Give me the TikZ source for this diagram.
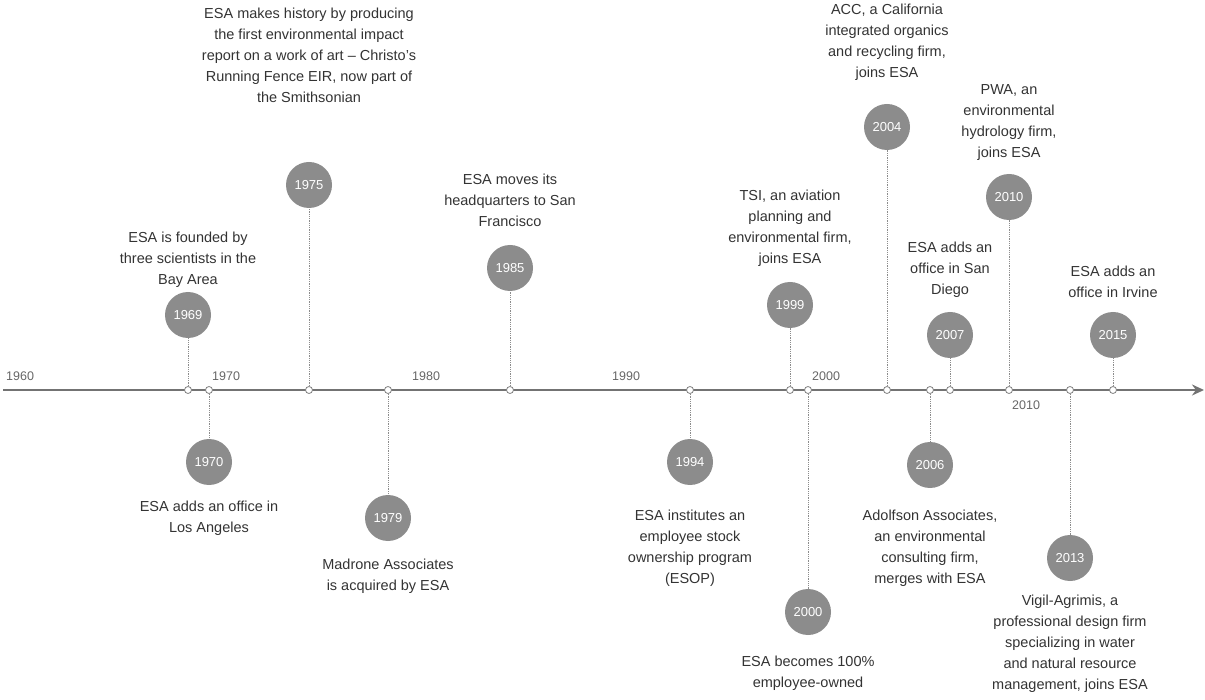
\documentclass[tikz,border=0pt]{standalone}
\usepackage{fontspec}
\setmainfont{Liberation Sans}
\usetikzlibrary{arrows.meta}
\begin{document}
\begin{tikzpicture}[x=1pt,y=-1pt,
    ball/.style={circle, fill=black!45, minimum size=46pt, inner sep=0pt, text=white, font=\fontsize{13}{13}\selectfont},
    note/.style={align=center, text=black!80, font=\fontsize{14.5}{21}\selectfont},
    yearlbl/.style={text=black!60, inner sep=0pt, font=\fontsize{12.5}{12.5}\selectfont},
    axisdot/.style={circle, draw=black!50, fill=white, minimum size=7pt, inner sep=0pt, line width=0.8pt},
    stem/.style={draw=black!45, line width=0.8pt, densely dotted},
    axisline/.style={draw=black!55, line width=2pt, -{Stealth[length=12pt,width=11pt]}}]
    \useasboundingbox (0,0) rectangle (1205,700);

    % time axis
    \coordinate (axstart) at (3,390);
    \coordinate (axend) at (1204,390);
    \draw[axisline] (axstart) -- (axend);

    % decade labels
    \node[yearlbl, anchor=south west] (y1960) at (6,381) {1960};
    \node[yearlbl, anchor=south west] (y1970) at (212,381) {1970};
    \node[yearlbl, anchor=south west] (y1980) at (412,381) {1980};
    \node[yearlbl, anchor=south west] (y1990) at (612,381) {1990};
    \node[yearlbl, anchor=south west] (y2000) at (812,381) {2000};
    \node[yearlbl, anchor=north west] (y2010) at (1012,401) {2010};

    % dots on the axis
    \node[axisdot] (d1969) at (188,390) {};
    \node[axisdot] (d1970) at (209,390) {};
    \node[axisdot] (d1975) at (309,390) {};
    \node[axisdot] (d1979) at (388,390) {};
    \node[axisdot] (d1985) at (510,390) {};
    \node[axisdot] (d1994) at (690,390) {};
    \node[axisdot] (d1999) at (790,390) {};
    \node[axisdot] (d2000) at (808,390) {};
    \node[axisdot] (d2004) at (887,390) {};
    \node[axisdot] (d2006) at (930,390) {};
    \node[axisdot] (d2007) at (950,390) {};
    \node[axisdot] (d2010) at (1009,390) {};
    \node[axisdot] (d2013) at (1070,390) {};
    \node[axisdot] (d2015) at (1113,390) {};

    % events above the axis
    \node[ball] (b1969) at (188,315) {1969};
    \node[note] (n1969) at (188,260) {ESA is founded by\\three scientists in the\\Bay Area};

    \node[ball] (b1975) at (309,185) {1975};
    \node[note] (n1975) at (309,55) {ESA makes history by producing\\the first environmental impact\\report on a work of art -- Christo's\\Running Fence EIR, now part of\\the Smithsonian};

    \node[ball] (b1985) at (510,268) {1985};
    \node[note] (n1985) at (510,200) {ESA moves its\\headquarters to San\\Francisco};

    \node[ball] (b1999) at (790,305) {1999};
    \node[note] (n1999) at (790,228) {TSI, an aviation\\planning and\\environmental firm,\\joins ESA};

    \node[ball] (b2004) at (887,127) {2004};
    \node[note] (n2004) at (887,42) {ACC, a California\\integrated organics\\and recycling firm,\\joins ESA};

    \node[ball] (b2007) at (950,335) {2007};
    \node[note] (n2007) at (950,270) {ESA adds an\\office in San\\Diego};

    \node[ball] (b2010) at (1009,197) {2010};
    \node[note] (n2010) at (1009,123) {PWA, an\\environmental\\hydrology firm,\\joins ESA};

    \node[ball] (b2015) at (1113,335) {2015};
    \node[note] (n2015) at (1113,282) {ESA adds an\\office in Irvine};

    % events below the axis
    \node[ball] (b1970) at (209,462) {1970};
    \node[note] (n1970) at (209,518) {ESA adds an office in\\Los Angeles};

    \node[ball] (b1979) at (388,518) {1979};
    \node[note] (n1979) at (388,576) {Madrone Associates\\is acquired by ESA};

    \node[ball] (b1994) at (690,462) {1994};
    \node[note] (n1994) at (690,548) {ESA institutes an\\employee stock\\ownership program\\(ESOP)};

    \node[ball] (b2000) at (808,612) {2000};
    \node[note] (n2000) at (808,673) {ESA becomes 100\%\\employee-owned};

    \node[ball] (b2006) at (930,465) {2006};
    \node[note] (n2006) at (930,548) {Adolfson Associates,\\an environmental\\consulting firm,\\merges with ESA};

    \node[ball] (b2013) at (1070,558) {2013};
    \node[note] (n2013) at (1070,644) {Vigil-Agrimis, a\\professional design firm\\specializing in water\\and natural resource\\management, joins ESA};

    % stems
    \draw[stem] (d1969) -- (b1969);
    \draw[stem] (d1975) -- (b1975);
    \draw[stem] (d1985) -- (b1985);
    \draw[stem] (d1999) -- (b1999);
    \draw[stem] (d2004) -- (b2004);
    \draw[stem] (d2007) -- (b2007);
    \draw[stem] (d2010) -- (b2010);
    \draw[stem] (d2015) -- (b2015);
    \draw[stem] (d1970) -- (b1970);
    \draw[stem] (d1979) -- (b1979);
    \draw[stem] (d1994) -- (b1994);
    \draw[stem] (d2000) -- (b2000);
    \draw[stem] (d2006) -- (b2006);
    \draw[stem] (d2013) -- (b2013);
\end{tikzpicture}
\end{document}
